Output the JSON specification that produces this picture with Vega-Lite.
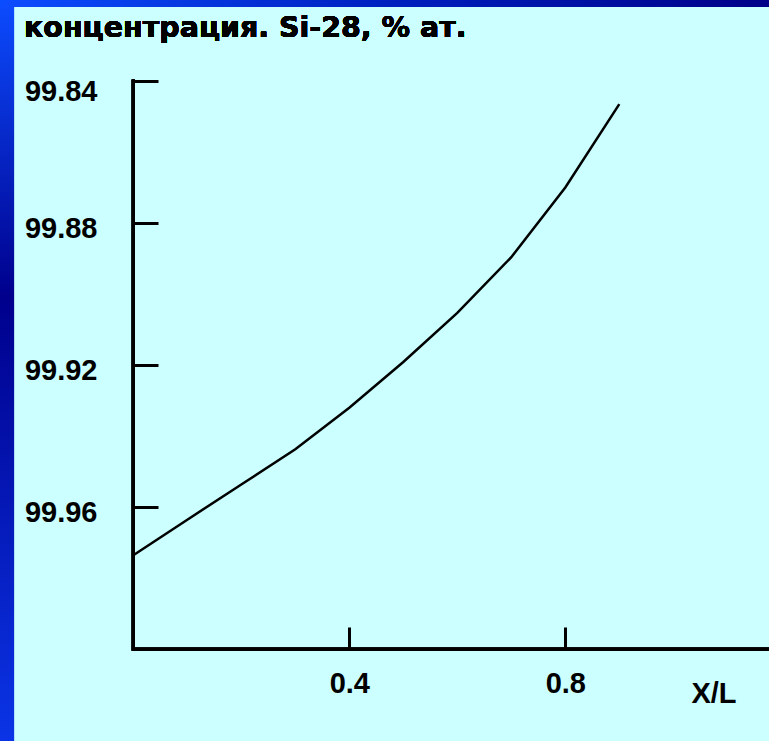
{
  "$schema": "https://vega.github.io/schema/vega-lite/v6.json",
  "width": 755,
  "height": 734,
  "autosize": {"type": "none"},
  "padding": {"left": 14, "top": 7, "right": 0, "bottom": 0},
  "background": "#0a2ad0",
  "view": {"fill": "#ccffff", "stroke": null},
  "data": {
    "values": [
      {"xl": 0.0, "c": 99.9735},
      {"xl": 0.1, "c": 99.9635},
      {"xl": 0.2, "c": 99.9536},
      {"xl": 0.3, "c": 99.9437},
      {"xl": 0.4, "c": 99.932},
      {"xl": 0.5, "c": 99.9191},
      {"xl": 0.6, "c": 99.9053},
      {"xl": 0.7, "c": 99.8896},
      {"xl": 0.8, "c": 99.87},
      {"xl": 0.9, "c": 99.8465}
    ]
  },
  "layer": [
    {
      "mark": {
        "type": "rect",
        "stroke": null,
        "fill": {
          "gradient": "linear",
          "x1": 0, "y1": 0, "x2": 0, "y2": 1,
          "stops": [
            {"offset": 0, "color": "#0c4cff"},
            {"offset": 0.4, "color": "#00008c"},
            {"offset": 1, "color": "#0a34e6"}
          ]
        }
      },
      "encoding": {
        "x": {"datum": -0.2469, "type": "quantitative"},
        "x2": {"datum": -0.2209},
        "y": {"datum": 99.8172, "type": "quantitative"},
        "y2": {"datum": 100.0258}
      }
    },
    {
      "mark": {
        "type": "rect",
        "stroke": null,
        "fill": {
          "gradient": "linear",
          "x1": 0, "y1": 0, "x2": 1, "y2": 0,
          "stops": [
            {"offset": 0, "color": "#0c4cff"},
            {"offset": 0.5, "color": "#0020c0"},
            {"offset": 1, "color": "#000088"}
          ]
        }
      },
      "encoding": {
        "x": {"datum": -0.2469, "type": "quantitative"},
        "x2": {"datum": 1.178},
        "y": {"datum": 99.8172, "type": "quantitative"},
        "y2": {"datum": 99.8192}
      }
    },
    {
      "mark": {
        "type": "text",
        "text": "концентрация. Si-28, % ат.",
        "align": "left",
        "baseline": "alphabetic",
        "font": "DejaVu Sans",
        "fontSize": 28.5,
        "fontWeight": "bold",
        "color": "#000000"
      },
      "encoding": {
        "x": {"datum": -0.2024, "type": "quantitative"},
        "y": {"datum": 99.82775, "type": "quantitative"}
      }
    },
    {
      "mark": {"type": "rule", "color": "#000000", "strokeWidth": 3, "strokeCap": "square"},
      "encoding": {
        "x": {"datum": 0, "type": "quantitative"},
        "y": {"datum": 99.84, "type": "quantitative"},
        "y2": {"datum": 100.0}
      }
    },
    {
      "mark": {"type": "rule", "color": "#000000", "strokeWidth": 3},
      "encoding": {
        "x": {"datum": 0, "type": "quantitative"},
        "x2": {"datum": 1.178},
        "y": {"datum": 100.0, "type": "quantitative"}
      }
    },
    {
      "mark": {"type": "line", "color": "#000000", "strokeWidth": 2.5},
      "encoding": {
        "x": {
          "field": "xl",
          "type": "quantitative",
          "scale": {"domain": [-0.22093, 1.17722], "nice": false, "zero": false},
          "axis": {
            "values": [0.4, 0.8],
            "format": ".1f",
            "orient": "bottom",
            "offset": -92,
            "domain": false,
            "grid": false,
            "ticks": true,
            "tickSize": -22,
            "tickWidth": 3,
            "tickColor": "#000000",
            "labelFont": "Liberation Sans",
            "labelFontSize": 29,
            "labelFontWeight": "bold",
            "labelColor": "#000000",
            "labelPadding": 42,
            "labelDx": 3,
            "labelFlush": false,
            "labelOverlap": false,
            "title": "X/L",
            "titleFont": "Liberation Sans",
            "titleFontSize": 29,
            "titleFontWeight": "bold",
            "titleColor": "#000000",
            "titleX": 699.5,
            "titleY": 44.5,
            "titleAlign": "center",
            "titleBaseline": "middle",
            "titleAngle": 0
          }
        },
        "y": {
          "field": "c",
          "type": "quantitative",
          "scale": {"domain": [99.81917, 100.02581], "reverse": true, "nice": false, "zero": false},
          "axis": {
            "values": [99.84, 99.88, 99.92, 99.96],
            "format": ".2f",
            "orient": "left",
            "offset": -119,
            "domain": false,
            "grid": false,
            "ticks": true,
            "tickSize": -25,
            "tickWidth": 3,
            "tickColor": "#000000",
            "labelFont": "Liberation Sans",
            "labelFontSize": 29,
            "labelFontWeight": "bold",
            "labelColor": "#000000",
            "labelPadding": 61,
            "labelOffset": {"condition": {"test": "datum.value == 99.84", "value": 11}, "value": 5},
            "labelAlign": "right",
            "labelBaseline": "middle",
            "labelFlush": false,
            "labelOverlap": false,
            "title": null
          }
        }
      }
    }
  ]
}
